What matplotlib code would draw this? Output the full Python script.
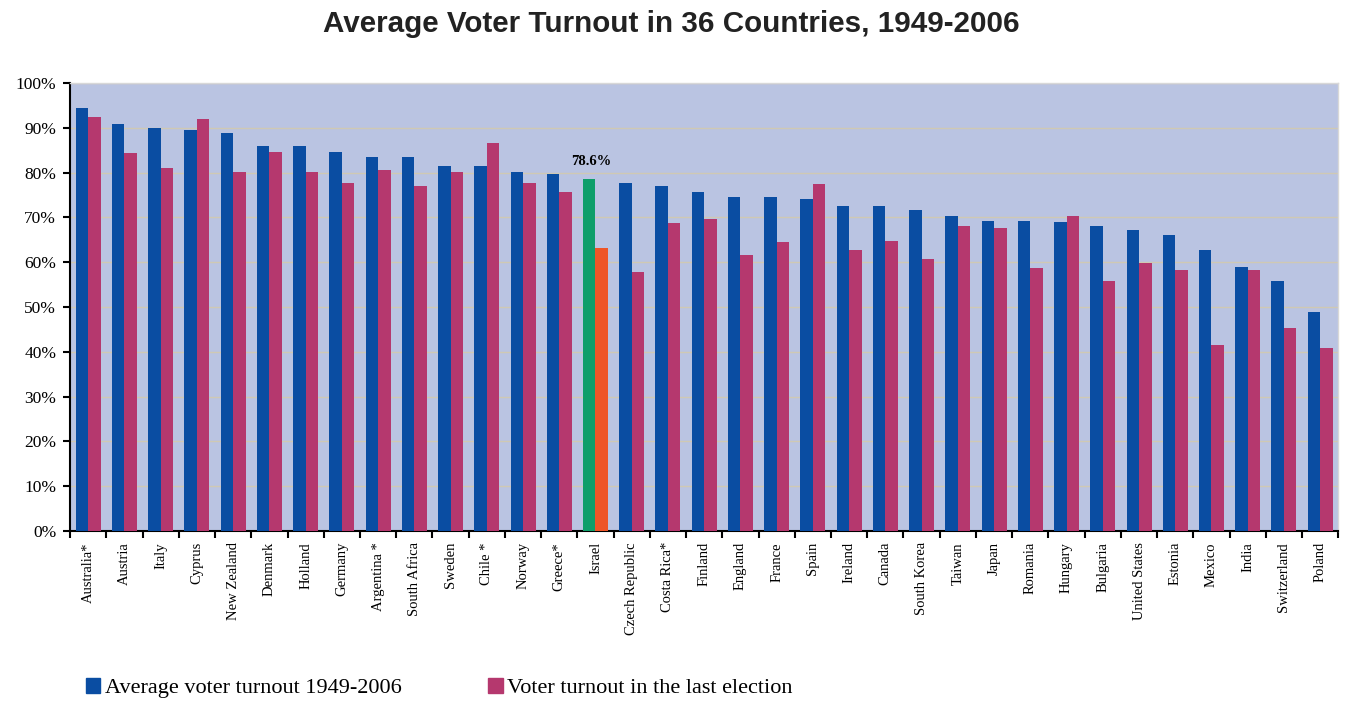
import numpy as np
import matplotlib.pyplot as plt
from matplotlib.patches import Patch

countries = ['Australia*', 'Austria', 'Italy', 'Cyprus', 'New Zealand', 'Denmark',
             'Holland', 'Germany', 'Argentina *', 'South Africa', 'Sweden', 'Chile *',
             'Norway', 'Greece*', 'Israel', 'Czech Republic', 'Costa Rica*', 'Finland',
             'England', 'France', 'Spain', 'Ireland', 'Canada', 'South Korea', 'Taiwan',
             'Japan', 'Romania', 'Hungary', 'Bulgaria', 'United States', 'Estonia',
             'Mexico', 'India', 'Switzerland', 'Poland']
avg_turnout = [94.4, 90.8, 89.9, 89.6, 88.8, 85.9, 85.9, 84.7, 83.5, 83.5, 81.5, 81.4,
               80.2, 79.7, 78.6, 77.7, 77.0, 75.7, 74.5, 74.5, 74.1, 72.5, 72.5, 71.7,
               70.4, 69.2, 69.2, 68.9, 68.1, 67.2, 66.0, 62.7, 59.0, 55.8, 48.9]
last_turnout = [92.4, 84.3, 81.0, 92.0, 80.2, 84.7, 80.2, 77.7, 80.6, 77.0, 80.2, 86.7,
                77.7, 75.7, 63.1, 57.9, 68.8, 69.6, 61.5, 64.4, 77.4, 62.8, 64.7, 60.7,
                68.0, 67.6, 58.7, 70.4, 55.8, 59.9, 58.3, 41.6, 58.3, 45.3, 40.8]
highlight = 'Israel'

blue = '#0a4da2'
pink = '#b5386e'
green = '#0e9e6a'
orange = '#ee5527'

plt.rcParams['font.family'] = ['Liberation Serif', 'DejaVu Serif']

fig = plt.figure(figsize=(13.48, 7.02), dpi=100)
ax = fig.add_axes([0.052, 0.2436, 0.9408, 0.6382])
ax.set_facecolor('#bac4e2')

x = np.arange(len(countries))
w = 0.345
hi = countries.index(highlight)
c1 = [green if i == hi else blue for i in x]
c2 = [orange if i == hi else pink for i in x]
ax.bar(x - w / 2, avg_turnout, w, color=c1, zorder=3)
ax.bar(x + w / 2, last_turnout, w, color=c2, zorder=3)
ax.text(hi - w / 2 + 0.05, avg_turnout[hi] + 2.4, f'{avg_turnout[hi]}%', ha='center',
        va='bottom', fontsize=10.5, fontweight='bold')

ax.set_xlim(-0.5, len(countries) - 0.5)
ax.set_ylim(0, 100)
ax.set_yticks(np.arange(0, 101, 10))
ax.set_yticklabels([f'{v}%' for v in range(0, 101, 10)], fontsize=12.5)
ax.yaxis.grid(True, color='#cfc9b4', linewidth=1, zorder=0)

ax.set_xticks(x)
ax.set_xticklabels(countries, rotation=90, fontsize=10.5)
ax.tick_params(axis='x', which='major', length=0, pad=8)
ax.set_xticks(np.arange(-0.5, len(countries), 1), minor=True)
ax.tick_params(axis='x', which='minor', length=5, width=1.5, direction='out')
ax.tick_params(axis='y', length=5, width=1.5, direction='out', pad=5)

for s in ['top', 'right']:
    ax.spines[s].set_color('#d8d8d8')
    ax.spines[s].set_linewidth(1)
for s in ['left', 'bottom']:
    ax.spines[s].set_linewidth(1.5)

fig.text(0.498, 0.966, 'Average Voter Turnout in 36 Countries, 1949-2006', ha='center',
         va='center', fontsize=21.3, fontweight='bold', family='Liberation Sans',
         color='#222222')

handles = [Patch(color=blue), Patch(color=pink)]
fig.legend(handles, ['Average voter turnout 1949-2006', 'Voter turnout in the last election'],
           loc='center left', bbox_to_anchor=(0.049, 0.02), ncol=2, frameon=False,
           fontsize=16, handlelength=0.65, handleheight=0.65, handletextpad=0.2,
           columnspacing=3.9)

fig.savefig('out.png', dpi=100, facecolor='white')
